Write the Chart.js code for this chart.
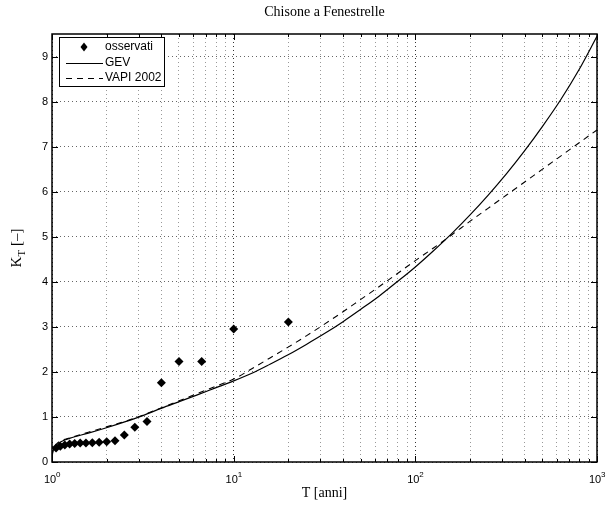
<!DOCTYPE html>
<html>
<head>
<meta charset="utf-8">
<script src="https://cdn.jsdelivr.net/npm/chart.js@4/dist/chart.umd.min.js"></script>
<style>
  html, body { margin: 0; padding: 0; background: #fff; }
  #wrap { width: 616px; height: 508px; }
</style>
</head>
<body>
<div id="wrap"><canvas id="grafico" width="616" height="508"></canvas></div>
<script>
// dati
const obsT = [1.053, 1.111, 1.176, 1.25, 1.333, 1.429, 1.538, 1.667, 1.818, 2, 2.222, 2.5, 2.857, 3.333, 4, 5, 6.667, 10, 20];
const obsK = [0.31, 0.35, 0.38, 0.40, 0.41, 0.42, 0.42, 0.43, 0.44, 0.45, 0.47, 0.60, 0.77, 0.90, 1.76, 2.23, 2.23, 2.95, 3.11];

// tempi di ritorno su cui sono lette le due curve
const curvaT = [1.001, 1.01, 1.03, 1.06, 1.12, 1.259, 1.585, 1.995, 2.512, 3.162, 3.981, 5.012, 6.310, 7.943,
  10, 12.59, 15.85, 19.95, 25.12, 31.62, 39.81, 50.12, 63.10, 79.43,
  100, 125.9, 158.5, 199.5, 251.2, 316.2, 398.1, 501.2, 631.0, 794.3, 1000];
const gevK = [0.10, 0.22, 0.31, 0.38, 0.45, 0.53, 0.64, 0.76, 0.89, 1.03, 1.19, 1.34, 1.49, 1.645,
  1.80, 1.97, 2.17, 2.38, 2.61, 2.85, 3.11, 3.39, 3.68, 4.00,
  4.33, 4.69, 5.07, 5.48, 5.92, 6.39, 6.90, 7.45, 8.04, 8.70, 9.45];
const vapiK = [0.12, 0.24, 0.33, 0.40, 0.47, 0.54, 0.66, 0.78, 0.90, 1.04, 1.20, 1.36, 1.52, 1.68,
  1.84, 2.07, 2.31, 2.55, 2.80, 3.06, 3.33, 3.61, 3.89, 4.18,
  4.47, 4.75, 5.04, 5.34, 5.63, 5.92, 6.21, 6.50, 6.79, 7.08, 7.37];

const xDecadi = [1, 10, 100, 1000];
const xEsponenti = ["0", "1", "2", "3"];
const yTicks = [0, 1, 2, 3, 4, 5, 6, 7, 8, 9];
const etichette = ["osservati", "GEV", "VAPI 2002"];

const SANS = "'Liberation Sans', Arial, sans-serif";
const SERIF = "'Liberation Serif', 'Times New Roman', serif";

// tutte le posizioni della griglia logaritmica (1..9 per decade)
const xGriglia = [];
xDecadi.forEach(d => {
  for (let k = 1; k <= 9; k++) {
    if (d * k <= 1000) xGriglia.push(d * k);
  }
});

function punti(xs, ys) {
  return xs.map((x, i) => ({ x: x, y: ys[i] }));
}

// cornice, tacche, etichette e legenda stile MATLAB
const cornice = {
  id: "cornice",
  afterDraw(chart) {
    const ctx = chart.ctx;
    const a = chart.chartArea;
    const sx = chart.scales.x;
    const sy = chart.scales.y;
    ctx.save();

    // tacche interne
    ctx.strokeStyle = "#000";
    ctx.lineWidth = 1;
    ctx.beginPath();
    xGriglia.forEach(v => {
      const px = Math.round(sx.getPixelForValue(v)) + 0.5;
      const len = xDecadi.includes(v) ? 6 : 3;
      ctx.moveTo(px, a.bottom); ctx.lineTo(px, a.bottom - len);
      ctx.moveTo(px, a.top); ctx.lineTo(px, a.top + len);
    });
    yTicks.forEach(v => {
      const py = Math.round(sy.getPixelForValue(v)) + 0.5;
      ctx.moveTo(a.left, py); ctx.lineTo(a.left + 6, py);
      ctx.moveTo(a.right, py); ctx.lineTo(a.right - 6, py);
    });
    ctx.stroke();

    // riquadro
    ctx.lineWidth = 1.5;
    ctx.strokeRect(a.left, a.top, a.right - a.left, a.bottom - a.top);

    // etichette asse y
    ctx.fillStyle = "#000";
    ctx.font = "11px " + SANS;
    ctx.textAlign = "right";
    ctx.textBaseline = "middle";
    yTicks.forEach(v => {
      ctx.fillText(String(v), a.left - 4, sy.getPixelForValue(v));
    });

    // etichette asse x (10 con esponente)
    xDecadi.forEach((v, i) => {
      const px = sx.getPixelForValue(v);
      ctx.font = "11px " + SANS;
      ctx.textAlign = "center";
      ctx.textBaseline = "alphabetic";
      ctx.fillText("10", px - 2, a.bottom + 21);
      ctx.font = "8px " + SANS;
      ctx.textAlign = "left";
      ctx.fillText(xEsponenti[i], px + 4, a.bottom + 15);
    });

    // titolo
    ctx.font = "14px " + SERIF;
    ctx.textAlign = "center";
    ctx.textBaseline = "middle";
    ctx.fillText("Chisone a Fenestrelle", (a.left + a.right) / 2, 12);

    // titolo asse x
    ctx.fillText("T [anni]", (a.left + a.right) / 2, 493);

    // titolo asse y: K con pedice T
    ctx.translate(17, 248);
    ctx.rotate(-Math.PI / 2);
    ctx.textAlign = "left";
    ctx.font = "15px " + SERIF;
    const wK = ctx.measureText("K").width;
    ctx.font = "11px " + SERIF;
    const wT = ctx.measureText("T").width;
    ctx.font = "15px " + SERIF;
    const wR = ctx.measureText(" [\u2013]").width;
    const x0 = -(wK + wT + wR) / 2;
    ctx.fillText("K", x0, 0);
    ctx.font = "11px " + SERIF;
    ctx.fillText("T", x0 + wK, 5);
    ctx.font = "15px " + SERIF;
    ctx.fillText(" [\u2013]", x0 + wK + wT, 0);
    ctx.restore();

    // legenda
    ctx.save();
    const lx = 59, ly = 37, lw = 105, lh = 49;
    ctx.fillStyle = "#fff";
    ctx.fillRect(lx, ly, lw, lh);
    ctx.strokeStyle = "#000";
    ctx.lineWidth = 1;
    ctx.strokeRect(lx + 0.5, ly + 0.5, lw, lh);
    const righe = [47, 63, 78];
    chart.data.datasets.forEach((ds, i) => {
      const y = righe[i];
      ctx.strokeStyle = "#000";
      ctx.fillStyle = "#000";
      if (i === 0) {
        ctx.beginPath();
        ctx.moveTo(84, y - 4.5);
        ctx.lineTo(87.5, y);
        ctx.lineTo(84, y + 4.5);
        ctx.lineTo(80.5, y);
        ctx.closePath();
        ctx.fill();
      } else {
        ctx.lineWidth = 1;
        ctx.setLineDash(ds.borderDash || []);
        ctx.beginPath();
        ctx.moveTo(66, y + 0.5);
        ctx.lineTo(103, y + 0.5);
        ctx.stroke();
        ctx.setLineDash([]);
      }
      ctx.font = "12px " + SANS;
      ctx.textAlign = "left";
      ctx.textBaseline = "middle";
      ctx.fillText(etichette[i], 105, y);
    });
    ctx.restore();
  }
};

new Chart(document.getElementById("grafico"), {
  type: "scatter",
  data: {
    datasets: [
      {
        label: etichette[0],
        data: punti(obsT, obsK),
        pointStyle: "rectRot",
        pointRadius: 4.5,
        backgroundColor: "#000",
        borderColor: "#000",
        borderWidth: 0,
        showLine: false
      },
      {
        label: etichette[1],
        data: punti(curvaT, gevK),
        showLine: true,
        pointRadius: 0,
        borderColor: "#000",
        borderWidth: 1.2,
        cubicInterpolationMode: "monotone"
      },
      {
        label: etichette[2],
        data: punti(curvaT, vapiK),
        showLine: true,
        pointRadius: 0,
        borderColor: "#000",
        borderWidth: 1.1,
        borderDash: [6, 5],
        cubicInterpolationMode: "monotone"
      }
    ]
  },
  options: {
    responsive: false,
    animation: false,
    layout: { padding: { left: 52, right: 19, top: 34, bottom: 46 } },
    plugins: {
      legend: { display: false },
      tooltip: { enabled: false },
      title: { display: false }
    },
    scales: {
      x: {
        type: "logarithmic",
        min: 1,
        max: 1000,
        afterBuildTicks: scale => { scale.ticks = xGriglia.map(v => ({ value: v })); },
        ticks: { display: false, autoSkip: false },
        grid: {
          drawTicks: false,
          color: ctx => (ctx.tick && xDecadi.includes(ctx.tick.value)) ? "#333" : "#999",
          lineWidth: 1
        },
        border: { display: false, dash: [1, 3] }
      },
      y: {
        min: 0,
        max: 9.5,
        afterBuildTicks: scale => { scale.ticks = yTicks.map(v => ({ value: v })); },
        ticks: { display: false },
        grid: { drawTicks: false, color: "#666", lineWidth: 1 },
        border: { display: false, dash: [1, 3] }
      }
    }
  },
  plugins: [cornice]
});
</script>
</body>
</html>
